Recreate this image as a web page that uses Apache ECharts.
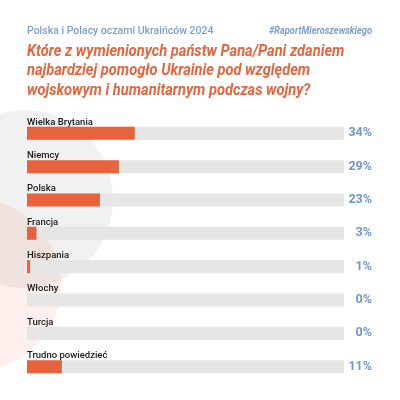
<!DOCTYPE html>
<html>
<head>
<meta charset="utf-8">
<script src="https://cdn.jsdelivr.net/npm/echarts@6/dist/echarts.min.js"></script>
<style>html,body{margin:0;padding:0;background:#fff}#c{width:400px;height:400px}</style>
</head>
<body>
<div id="c"></div>
<script>
const categories = ['Wielka Brytania', 'Niemcy', 'Polska', 'Francja', 'Hiszpania', 'Włochy', 'Turcja', 'Trudno powiedzieć'];
const values = [34, 29, 23, 3, 1, 0, 0, 11];
const valueLabels = values.map(v => v + '%');
const headerLeft = 'Polska i Polacy oczami Ukraińców 2024';
const headerRight = '#RaportMieroszewskiego';
const titleLines = ['Które z wymienionych państw Pana/Pani zdaniem', 'najbardziej pomogło Ukrainie pod względem', 'wojskowym i humanitarnym podczas wojny?'];

const FONT = 'Roboto';
const chart = echarts.init(document.getElementById('c'), null, {renderer: 'canvas'});
const titleY = [51.5, 71, 90.5];
const graphics = [
  {type: 'circle', shape: {cx: 24, cy: 199, r: 89}, style: {fill: '#f1f1f1'}, z: 0, silent: true},
  {type: 'circle', shape: {cx: -25, cy: 285, r: 86}, style: {fill: 'rgba(232,96,60,0.1)'}, z: 0, silent: true},
  {type: 'text', x: 27, y: 31, z: 10, style: {text: headerLeft, font: '500 10.5px ' + FONT, fill: '#7b9fd4', verticalAlign: 'middle', align: 'left'}},
  {type: 'text', x: 372, y: 31, z: 10, scaleX: 0.88, style: {text: headerRight, font: 'italic bold 10.5px ' + FONT, fill: '#7b9fd4', verticalAlign: 'middle', align: 'right'}}
];
titleLines.forEach((t, i) => {
  graphics.push({type: 'text', x: 27, y: titleY[i], z: 10, scaleX: 0.915, style: {text: t, font: 'italic bold 16px ' + FONT, fill: '#e8643f', verticalAlign: 'middle', align: 'left'}});
});

chart.setOption({
  animation: false,
  backgroundColor: '#fff',
  graphic: graphics,
  grid: {left: 27, right: 56, top: 116.67, bottom: 16.67, containLabel: false},
  xAxis: {type: 'value', min: 0, max: 100, show: false},
  yAxis: [
    {type: 'category', data: categories, inverse: true, position: 'left',
     axisLine: {show: false}, axisTick: {show: false}, splitLine: {show: false},
     axisLabel: {inside: true, margin: 0, align: 'left', verticalAlign: 'bottom', padding: [0, 0, 6, 0],
       fontFamily: FONT, fontSize: 9.5, fontWeight: 500, color: '#1a1a1a'}},
    {type: 'category', data: valueLabels, inverse: true, position: 'right',
     axisLine: {show: false}, axisTick: {show: false}, splitLine: {show: false},
     axisLabel: {margin: 28, align: 'right', verticalAlign: 'middle', padding: [6, 0, 0, 0],
       fontFamily: FONT, fontSize: 12.5, fontWeight: 'bold', color: '#7096cf'}}
  ],
  series: [{
    type: 'bar', data: values, yAxisIndex: 0, barWidth: 13,
    itemStyle: {color: '#e8623d'},
    showBackground: true, backgroundStyle: {color: '#e5e5e5'},
    z: 3
  }]
});
</script>
</body>
</html>
